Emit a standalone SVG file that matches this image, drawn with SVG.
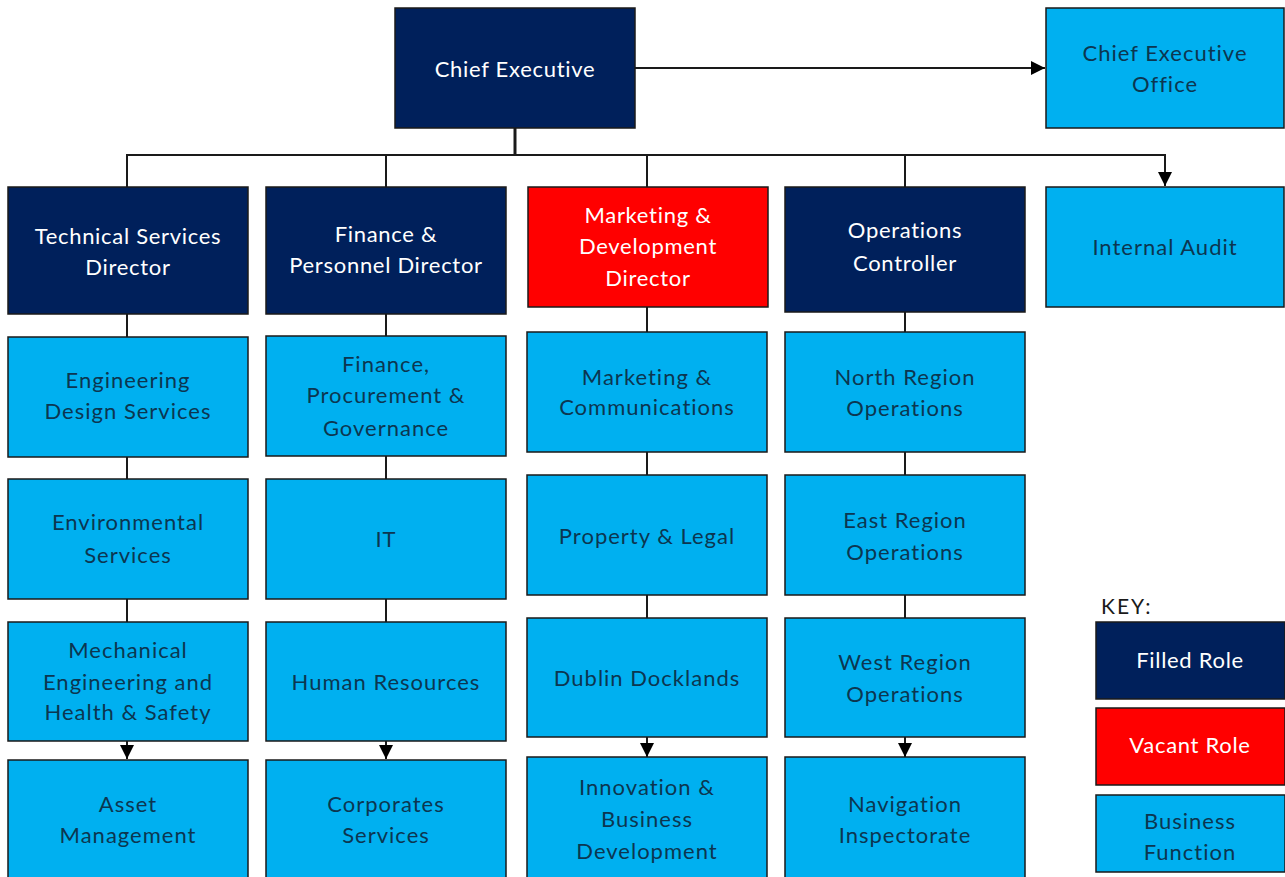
<svg xmlns="http://www.w3.org/2000/svg" width="1285" height="877" viewBox="0 0 1285 877">
<defs>
<style>
.filled{fill:#00205B;stroke:#1a1a1a;stroke-width:1.5}
.vacant{fill:#FF0000;stroke:#1a1a1a;stroke-width:1.5}
.func{fill:#00B0F0;stroke:#1a1a1a;stroke-width:1.5}
text{font-family:Lato,"Liberation Sans",sans-serif;font-size:22px;letter-spacing:1px;text-anchor:middle}
.wt{fill:#ffffff;letter-spacing:0.7px}
.dt{fill:#0c3650}
.conn{stroke:#1a1a1a;stroke-width:2;fill:none}
</style>
<marker id="arrs" viewBox="0 0 10 10" refX="10" refY="5" markerWidth="14" markerHeight="14" markerUnits="userSpaceOnUse" orient="auto">
<path d="M0,0 L10,5 L0,10 Z" fill="#000"/>
</marker>
</defs>
<rect width="1285" height="877" fill="#ffffff"/>

<g id="connectors">
<line class="conn" x1="515" y1="128" x2="515" y2="155" style="stroke-width:3"/>
<polyline class="conn" points="127,187 127,155 1165,155 1165,186" marker-end="url(#arrs)"/>
<line class="conn" x1="386" y1="155" x2="386" y2="187"/>
<line class="conn" x1="647" y1="155" x2="647" y2="187"/>
<line class="conn" x1="905" y1="155" x2="905" y2="187"/>
<line class="conn" x1="635" y1="68" x2="1045" y2="68" marker-end="url(#arrs)"/>
<line class="conn" x1="127" y1="314" x2="127" y2="337"/>
<line class="conn" x1="127" y1="457" x2="127" y2="479"/>
<line class="conn" x1="127" y1="599" x2="127" y2="622"/>
<line class="conn" x1="127" y1="741" x2="127" y2="759" marker-end="url(#arrs)"/>
<line class="conn" x1="386" y1="314" x2="386" y2="336"/>
<line class="conn" x1="386" y1="456" x2="386" y2="479"/>
<line class="conn" x1="386" y1="599" x2="386" y2="622"/>
<line class="conn" x1="386" y1="741" x2="386" y2="759" marker-end="url(#arrs)"/>
<line class="conn" x1="647" y1="307" x2="647" y2="332"/>
<line class="conn" x1="647" y1="452" x2="647" y2="475"/>
<line class="conn" x1="647" y1="595" x2="647" y2="618"/>
<line class="conn" x1="647" y1="737" x2="647" y2="757" marker-end="url(#arrs)"/>
<line class="conn" x1="905" y1="312" x2="905" y2="332"/>
<line class="conn" x1="905" y1="452" x2="905" y2="475"/>
<line class="conn" x1="905" y1="595" x2="905" y2="618"/>
<line class="conn" x1="905" y1="737" x2="905" y2="757" marker-end="url(#arrs)"/>
</g>

<g id="chief-executive"><rect class="filled" x="395" y="8" width="240" height="120"/><text class="wt" x="515" y="77">Chief Executive</text></g>
<g id="chief-executive-office"><rect class="func" x="1046" y="8" width="238" height="120"/><text class="dt" x="1165" y="61">Chief Executive</text><text class="dt" x="1165" y="92">Office</text></g>

<g id="technical-services-director"><rect class="filled" x="8" y="187" width="240" height="127"/><text class="wt" x="128" y="244">Technical Services</text><text class="wt" x="128" y="275">Director</text></g>
<g id="finance-personnel-director"><rect class="filled" x="266" y="187" width="240" height="127"/><text class="wt" x="386" y="242">Finance &amp;</text><text class="wt" x="386" y="273">Personnel Director</text></g>
<g id="marketing-development-director"><rect class="vacant" x="528" y="187" width="240" height="120"/><text class="wt" x="648" y="223">Marketing &amp;</text><text class="wt" x="648" y="254">Development</text><text class="wt" x="648" y="286">Director</text></g>
<g id="operations-controller"><rect class="filled" x="785" y="187" width="240" height="125"/><text class="wt" x="905" y="238">Operations</text><text class="wt" x="905" y="271">Controller</text></g>
<g id="internal-audit"><rect class="func" x="1046" y="187" width="238" height="120"/><text class="dt" x="1165" y="255">Internal Audit</text></g>

<g id="engineering-design-services"><rect class="func" x="8" y="337" width="240" height="120"/><text class="dt" x="128" y="388">Engineering</text><text class="dt" x="128" y="419">Design Services</text></g>
<g id="environmental-services"><rect class="func" x="8" y="479" width="240" height="120"/><text class="dt" x="128" y="530">Environmental</text><text class="dt" x="128" y="563">Services</text></g>
<g id="mechanical-engineering"><rect class="func" x="8" y="622" width="240" height="119"/><text class="dt" x="128" y="658">Mechanical</text><text class="dt" x="128" y="690">Engineering and</text><text class="dt" x="128" y="720">Health &amp; Safety</text></g>
<g id="asset-management"><rect class="func" x="8" y="760" width="240" height="125"/><text class="dt" x="128" y="812">Asset</text><text class="dt" x="128" y="843">Management</text></g>

<g id="finance-procurement-governance"><rect class="func" x="266" y="336" width="240" height="120"/><text class="dt" x="386" y="372">Finance,</text><text class="dt" x="386" y="403">Procurement &amp;</text><text class="dt" x="386" y="436">Governance</text></g>
<g id="it"><rect class="func" x="266" y="479" width="240" height="120"/><text class="dt" x="386" y="547">IT</text></g>
<g id="human-resources"><rect class="func" x="266" y="622" width="240" height="119"/><text class="dt" x="386" y="690">Human Resources</text></g>
<g id="corporates-services"><rect class="func" x="266" y="760" width="240" height="125"/><text class="dt" x="386" y="812">Corporates</text><text class="dt" x="386" y="843">Services</text></g>

<g id="marketing-communications"><rect class="func" x="527" y="332" width="240" height="120"/><text class="dt" x="647" y="385">Marketing &amp;</text><text class="dt" x="647" y="415">Communications</text></g>
<g id="property-legal"><rect class="func" x="527" y="475" width="240" height="120"/><text class="dt" x="647" y="544">Property &amp; Legal</text></g>
<g id="dublin-docklands"><rect class="func" x="527" y="618" width="240" height="119"/><text class="dt" x="647" y="686">Dublin Docklands</text></g>
<g id="innovation-business-development"><rect class="func" x="527" y="757" width="240" height="128"/><text class="dt" x="647" y="795">Innovation &amp;</text><text class="dt" x="647" y="827">Business</text><text class="dt" x="647" y="859">Development</text></g>

<g id="north-region-operations"><rect class="func" x="785" y="332" width="240" height="120"/><text class="dt" x="905" y="385">North Region</text><text class="dt" x="905" y="416">Operations</text></g>
<g id="east-region-operations"><rect class="func" x="785" y="475" width="240" height="120"/><text class="dt" x="905" y="528">East Region</text><text class="dt" x="905" y="560">Operations</text></g>
<g id="west-region-operations"><rect class="func" x="785" y="618" width="240" height="119"/><text class="dt" x="905" y="670">West Region</text><text class="dt" x="905" y="702">Operations</text></g>
<g id="navigation-inspectorate"><rect class="func" x="785" y="757" width="240" height="128"/><text class="dt" x="905" y="812">Navigation</text><text class="dt" x="905" y="843">Inspectorate</text></g>

<g id="key">
<text x="1101" y="614" style="text-anchor:start;font-size:21px;letter-spacing:2px;fill:#1a1a1a">KEY:</text>
<g id="key-filled"><rect class="filled" x="1096" y="622" width="189" height="77"/><text class="wt" x="1190" y="668">Filled Role</text></g>
<g id="key-vacant"><rect class="vacant" x="1096" y="708" width="189" height="77"/><text class="wt" x="1190" y="753">Vacant Role</text></g>
<g id="key-function"><rect class="func" x="1096" y="795" width="189" height="77"/><text class="dt" x="1190" y="829">Business</text><text class="dt" x="1190" y="860">Function</text></g>
</g>
</svg>
